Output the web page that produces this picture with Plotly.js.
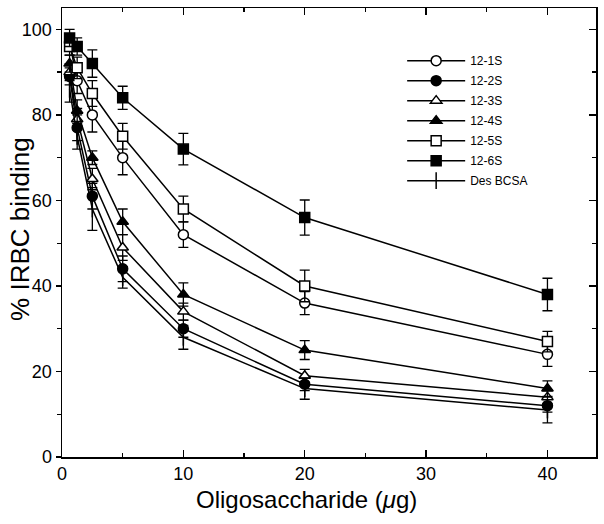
<!DOCTYPE html>
<html>
<head>
<meta charset="utf-8">
<script src="https://cdn.plot.ly/plotly-3.0.1.min.js"></script>
<style>html,body{margin:0;padding:0;background:#fff;}#chart{width:604px;height:524px;}</style>
</head>
<body>
<div id="chart"></div>
<script>
// Oligosaccharide amount (µg)
const doses = [0.625, 1.25, 2.5, 5, 10, 20, 40];

const names = ["12-1S", "12-2S", "12-3S", "12-4S", "12-5S", "12-6S", "Des BCSA"];

const s121 = [97, 88, 80, 70, 52, 36, 24];
const s122 = [89, 77, 61, 44, 30, 17, 12];
const s123 = [90, 79, 65, 49, 34, 19, 14];
const s124 = [92, 81, 70, 55, 38, 25, 16];
const s125 = [96, 91, 85, 75, 58, 40, 27];
const s126 = [98, 96, 92, 84, 72, 56, 38];
const sDes = [86, 75, 58, 42, 28, 16, 11];

const e121 = [2, 3, 4, 4, 3, 2.7, 2.8];
const e122 = [2, 3, 3, 3, 2, 1.5, 1.5];
const e123 = [2, 2.5, 2.5, 3, 2, 1.5, 1.5];
const e124 = [2, 2.5, 1.6, 3, 2.7, 2.2, 1.8];
const e125 = [2, 2.5, 3, 3, 3, 3.7, 2.4];
const e126 = [2, 2, 3.2, 2.7, 3.7, 4.1, 3.8];
const eDes = [3, 3, 5, 2.5, 2.8, 2.5, 3];

const xTicks = [0, 10, 20, 30, 40];
const yTicks = [0, 20, 40, 60, 80, 100];

const xTitle = "Oligosaccharide (<i>μ</i>g)";
const yTitle = "% IRBC binding";

const series = [s121, s122, s123, s124, s125, s126, sDes];
const errs = [e121, e122, e123, e124, e125, e126, eDes];
const symbols = ["circle", "circle", "triangle-up", "triangle-up", "square", "square", "line-ns-open"];
const fills = ["white", "black", "white", "black", "white", "black", "black"];
const sizes = [10, 10, 10, 10, 10, 10, 12];

const traces = series.map((ys, i) => ({
  type: "scatter",
  mode: "lines+markers",
  name: names[i],
  legendgroup: "g" + i,
  x: doses,
  y: ys,
  line: {color: "black", width: 1.5},
  marker: {symbol: symbols[i], size: sizes[i], color: fills[i], line: {color: "black", width: 1.5}},
  error_y: {type: "data", array: errs[i], visible: true, color: "black", thickness: 1.3, width: 5},
  cliponaxis: false
}));
// dummy trace anchoring right-side axis for inside ticks
traces.push({type: "scatter", x: [], y: [], yaxis: "y2", showlegend: false, hoverinfo: "skip"});

const font = "Liberation Sans, Arial, Helvetica, sans-serif";

const layout = {
  width: 604, height: 524,
  margin: {l: 62, r: 8, t: 8, b: 67},
  paper_bgcolor: "white", plot_bgcolor: "white",
  showlegend: true,
  font: {family: font, color: "black"},
  legend: {
    x: 0.637, y: 0.915, xanchor: "left", yanchor: "top",
    font: {family: font, size: 12, color: "black"},
    bgcolor: "rgba(0,0,0,0)", borderwidth: 0,
    itemwidth: 58, tracegroupgap: 1
  },
  xaxis: {
    range: [0, 44], tickvals: xTicks, ticktext: xTicks.map(String),
    ticks: "inside", ticklen: 7, tickwidth: 1.3, tickcolor: "black",
    minor: {dtick: 5, tick0: 0, ticks: "inside", ticklen: 4, tickwidth: 1.3, tickcolor: "black"},
    showline: true, linecolor: "black", linewidth: 1.5, mirror: "ticks",
    showgrid: false, zeroline: false,
    tickfont: {family: font, size: 18, color: "black"}
  },
  yaxis: {
    range: [0, 105], tickvals: yTicks, ticktext: yTicks.map(String),
    ticks: "outside", ticklen: 5, tickwidth: 1.3, tickcolor: "black",
    minor: {dtick: 10, tick0: 0, ticks: "outside", ticklen: 4, tickwidth: 1.3, tickcolor: "black"},
    showline: true, linecolor: "black", linewidth: 1.5, mirror: true,
    showgrid: false, zeroline: false,
    tickfont: {family: font, size: 18, color: "black"}
  },
  yaxis2: {
    overlaying: "y", side: "right", anchor: "x", range: [0, 105], tickvals: yTicks,
    showticklabels: false, ticks: "inside", ticklen: 7, tickwidth: 1.3, tickcolor: "black",
    minor: {dtick: 10, tick0: 0, ticks: "inside", ticklen: 4, tickwidth: 1.3, tickcolor: "black"},
    showline: false, showgrid: false, zeroline: false
  },
  annotations: [
    {text: xTitle, xref: "paper", yref: "paper", x: 0.457, y: -0.06, xanchor: "center", yanchor: "top",
     showarrow: false, font: {family: font, size: 24, color: "black"}},
    {text: yTitle, xref: "paper", yref: "paper", x: -0.0787, y: 0.508, xanchor: "center", yanchor: "middle",
     textangle: -90, showarrow: false, font: {family: font, size: 26, color: "black"}}
  ]
};

Plotly.newPlot("chart", traces, layout, {displayModeBar: false, staticPlot: true});
</script>
</body>
</html>
